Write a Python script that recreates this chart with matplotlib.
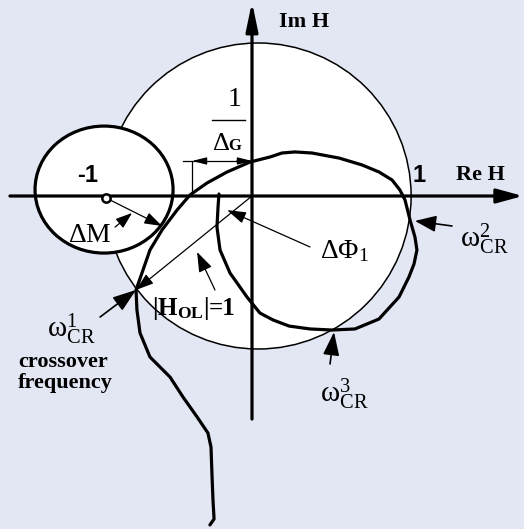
import matplotlib
matplotlib.use('Agg')
import matplotlib.pyplot as plt
from matplotlib.patches import Circle, Ellipse

# Nyquist locus of the open loop H_OL (unit circle radius = 1)
re_h = [-0.275, -0.248, -0.255, -0.261, -0.268, -0.288, -0.359, -0.451, -0.536, -0.667,
        -0.732, -0.752, -0.758, -0.719, -0.667, -0.588, -0.490, -0.405, -0.294, -0.163,
        -0.013, 0.118, 0.196, 0.281, 0.392, 0.569, 0.719, 0.830, 0.915, 0.967,
        1.000, 1.033, 1.065, 1.078, 1.059, 1.026, 0.961, 0.830, 0.673, 0.523,
        0.379, 0.242, 0.137, 0.052, -0.033, -0.144, -0.209, -0.229, -0.222, -0.216]
im_h = [-2.150, -2.111, -1.987, -1.837, -1.641, -1.549, -1.444, -1.314, -1.183, -1.052,
        -0.895, -0.745, -0.614, -0.503, -0.353, -0.222, -0.092, 0.007, 0.085, 0.157,
        0.222, 0.255, 0.281, 0.288, 0.281, 0.248, 0.203, 0.157, 0.105, 0.039,
        -0.026, -0.157, -0.268, -0.353, -0.444, -0.529, -0.660, -0.804, -0.869, -0.876,
        -0.869, -0.850, -0.810, -0.765, -0.660, -0.503, -0.353, -0.203, -0.072, 0.013]

unit_center = (0.04, 0.0)        # |H_OL| = 1 circle
unit_radius = 1.0
crit_center = (-0.967, 0.042)    # margin circle around -1
crit_w, crit_h = 0.902, 0.830
crit_point = (-0.954, -0.013)
gain_cross = -0.392              # real-axis crossing  (-1/ΔG)
dim_level = 0.229                # height of the 1/ΔG dimension line

# crossover frequencies: curve meets the unit circle
w1_tip = (-0.758, -0.614)
w2_tip = (1.065, -0.163)
w3_tip = (0.536, -0.889)

BG = '#E3E7F4'
SERIF = 'Liberation Serif'
SANS = 'Liberation Sans'

plt.rcParams['mathtext.fontset'] = 'custom'
plt.rcParams['mathtext.rm'] = SERIF
plt.rcParams['mathtext.it'] = SERIF
plt.rcParams['mathtext.bf'] = SERIF + ':bold'
plt.rcParams['mathtext.default'] = 'rm'

fig = plt.figure(figsize=(5.24, 5.29), dpi=100, facecolor=BG)
ax = fig.add_axes([0, 0, 1, 1], facecolor=BG)
ax.set_xlim(-252 / 153, 272 / 153)
ax.set_ylim(-333 / 153, 196 / 153)
ax.axis('off')


def arrow(tail, tip, lw=0.9, hl=14, hw=5, z=5):
    # hl / hw given in pixels (head length, half width)
    style = f'-|>,head_length={hl * 0.072:.3f},head_width={hw * 0.072:.3f}'
    ax.annotate('', xy=tip, xytext=tail,
                arrowprops=dict(arrowstyle=style, mutation_scale=10, lw=lw, color='black',
                                shrinkA=0, shrinkB=0),
                zorder=z)


# circles
ax.add_patch(Circle(unit_center, unit_radius, facecolor='white', edgecolor='black', lw=1.1, zorder=1))
ax.add_patch(Ellipse(crit_center, crit_w, crit_h, facecolor='white', edgecolor='black', lw=2.3, zorder=2))

# axes with arrow heads
arrow((-1.582, 0), (1.771, 0), lw=2.3, hl=22, hw=6, z=3)
arrow((0, -1.458), (0, 1.268), lw=2.3, hl=24, hw=5, z=3)

# the locus
ax.plot(re_h, im_h, color='black', lw=2.3, solid_joinstyle='round', solid_capstyle='round', zorder=4)
ax.plot(*crit_point, marker='o', ms=6, mfc='white', mec='black', mew=1.8, zorder=6)

# 1/ΔG dimension
ax.plot([gain_cross, gain_cross], [0, dim_level], color='black', lw=0.9, zorder=5)
ax.plot([-0.451, 0], [dim_level, dim_level], color='black', lw=0.9, zorder=5)
arrow((-0.30, dim_level), (gain_cross, dim_level), hl=12, hw=3)
arrow((-0.10, dim_level), (0, dim_level), hl=12, hw=3)
ax.plot([-0.261, -0.046], [0.497, 0.497], color='black', lw=1.0, zorder=5)
ax.text(-0.111, 0.588, '1', family=SERIF, fontsize=20, ha='center', va='baseline')
ax.text(-0.263, 0.301, r'$\Delta$', fontsize=19, ha='left', va='baseline')
ax.text(-0.152, 0.301, 'G', family=SERIF, fontsize=12, weight='bold', ha='left', va='baseline')

# ΔM
arrow(crit_point, (-0.588, -0.196), hl=15, hw=5)
arrow((-0.895, -0.203), (-0.784, -0.111), hl=14, hw=5)
ax.text(-1.203, -0.301, r'$\Delta$M', family=SERIF, fontsize=20, ha='left', va='baseline')

# |H_OL| = 1 radius and its label
arrow((0, 0), w1_tip, hl=15, hw=5)
arrow((-0.242, -0.614), (-0.359, -0.366), hl=17, hw=6)
ax.text(-0.654, -0.778, r'$\mathbf{|H_{OL}|}$', fontsize=18, ha='left', va='baseline')
ax.text(-0.284, -0.778, '=1', family=SERIF, fontsize=18, weight='bold', ha='left', va='baseline')

# ΔΦ1
arrow((0.379, -0.333), (-0.163, -0.092), hl=16, hw=5)
ax.text(0.444, -0.405, r'$\Delta\Phi_{1}$', fontsize=20, ha='left', va='baseline')

# crossover frequency markers
arrow((-0.993, -0.791), w1_tip, lw=1.2, hl=20, hw=7)
arrow((1.307, -0.196), w2_tip, lw=1.2, hl=18, hw=7)
arrow((0.510, -1.098), w3_tip, lw=1.2, hl=20, hw=7)

for (x0, y0, sup) in [(-1.340, -0.925, '1'), (1.359, -0.333, '2'), (0.444, -1.346, '3')]:
    ax.text(x0, y0, r'$\omega^{%s}_{CR}$' % sup, fontsize=21, ha='left', va='baseline')

ax.text(-1.529, -1.118, 'crossover', family=SERIF, fontsize=16, weight='bold', ha='left', va='baseline')
ax.text(-1.529, -1.255, 'frequency', family=SERIF, fontsize=16, weight='bold', ha='left', va='baseline')

# axis labels
ax.text(-1.072, 0.092, '-1', family=SANS, fontsize=17, weight='bold', ha='center', va='baseline')
ax.text(1.092, 0.092, '1', family=SANS, fontsize=17, weight='bold', ha='center', va='baseline')
ax.text(1.333, 0.105, 'Re H', family=SERIF, fontsize=16, weight='bold', ha='left', va='baseline')
ax.text(0.176, 1.105, 'Im H', family=SERIF, fontsize=16, weight='bold', ha='left', va='baseline')

fig.savefig('out.png', dpi=100, facecolor=BG)
